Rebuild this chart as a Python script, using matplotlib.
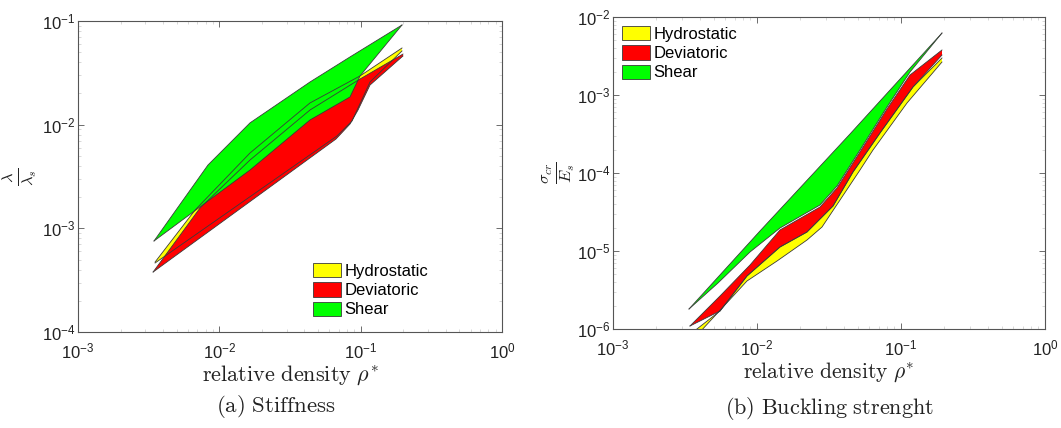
import numpy as np
import matplotlib
matplotlib.use('Agg')
import matplotlib.pyplot as plt
from matplotlib.patches import Patch
from matplotlib.ticker import LogLocator, NullFormatter

plt.rcParams['font.family'] = ['Liberation Sans', 'DejaVu Sans']
plt.rcParams['mathtext.fontset'] = 'custom'
plt.rcParams['mathtext.rm'] = 'Liberation Sans'
plt.rcParams['mathtext.it'] = 'Liberation Sans:italic'

# ---- (a) stiffness bands: upper / lower envelopes vs relative density
stf_shear_up_x = [0.00345, 0.00831, 0.01648, 0.04381, 0.08408, 0.1961]
stf_shear_up_y = [7.55e-4, 4.08e-3, 1.04e-2, 2.58e-2, 4.50e-2, 9.15e-2]
stf_shear_lo_x = [0.00345, 0.00730, 0.01648, 0.04381, 0.08408, 0.09893, 0.1961]
stf_shear_lo_y = [7.55e-4, 1.61e-3, 3.65e-3, 1.11e-2, 1.85e-2, 2.95e-2, 9.15e-2]

stf_dev_up_x = [0.00340, 0.00730, 0.01648, 0.04381, 0.09893, 0.1993]
stf_dev_up_y = [3.79e-4, 1.57e-3, 4.56e-3, 1.385e-2, 2.757e-2, 4.80e-2]
stf_dev_lo_x = [0.00340, 0.0669, 0.08408, 0.09577, 0.1164, 0.1993]
stf_dev_lo_y = [3.79e-4, 7.27e-3, 1.015e-2, 1.385e-2, 2.41e-2, 4.60e-2]

stf_hyd_up_x = [0.00351, 0.00673, 0.01648, 0.04381, 0.09893, 0.1961]
stf_hyd_up_y = [4.73e-4, 1.50e-3, 5.33e-3, 1.62e-2, 2.95e-2, 5.49e-2]
stf_hyd_lo_x = [0.00351, 0.0680, 0.08685, 0.1164, 0.1961]
stf_hyd_lo_y = [4.63e-4, 7.78e-3, 1.085e-2, 2.58e-2, 5.14e-2]

# ---- (b) buckling strength bands
bck_shear_up_x = [0.003372, 0.01049, 0.04424, 0.1926]
bck_shear_up_y = [1.805e-6, 1.805e-5, 3.16e-4, 6.23e-3]
bck_shear_lo_x = [0.003372, 0.00536, 0.008942, 0.01444, 0.02738, 0.03594, 0.05192, 0.07993, 0.1155, 0.1926]
bck_shear_lo_y = [1.805e-6, 3.89e-6, 9.71e-6, 1.972e-5, 3.89e-5, 6.81e-5, 1.972e-4, 7.02e-4, 1.972e-3, 6.23e-3]

bck_dev_up_x = [0.003425, 0.005536, 0.008942, 0.01444, 0.02738, 0.03594, 0.05192, 0.07993, 0.1155, 0.1926]
bck_dev_up_y = [1.093e-6, 2.649e-6, 6.61e-6, 1.859e-5, 3.66e-5, 6.42e-5, 1.859e-4, 6.61e-4, 1.805e-3, 3.775e-3]
bck_dev_lo_x = [0.003425, 0.005536, 0.008522, 0.01444, 0.02224, 0.03372, 0.04642, 0.07146, 0.1212, 0.1926]
bck_dev_lo_y = [1.093e-6, 1.701e-6, 4.78e-6, 1.125e-5, 1.752e-5, 3.775e-5, 1.030e-4, 3.256e-4, 1.267e-3, 3.256e-3]

bck_hyd_up_x = [0.003594, 0.005536, 0.008522, 0.01444, 0.02224, 0.03372, 0.04642, 0.07146, 0.1212, 0.1926]
bck_hyd_up_y = [9.15e-7, 1.701e-6, 4.78e-6, 1.125e-5, 1.752e-5, 3.775e-5, 1.030e-4, 3.256e-4, 1.267e-3, 2.981e-3]
bck_hyd_lo_x = [0.004019, 0.008522, 0.01377, 0.02224, 0.02828, 0.03771, 0.05192, 0.06391, 0.1101, 0.1926]
bck_hyd_lo_y = [9.15e-7, 4.125e-6, 7.44e-6, 1.383e-5, 2.03e-5, 4.50e-5, 1.093e-4, 1.972e-4, 7.90e-4, 2.649e-3]

names = ['Hydrostatic', 'Deviatoric', 'Shear']
colors = ['#ffff00', '#ff0000', '#00ff00']
edge = '#3a3a3a'


def draw_band(ax, ux, uy, lx, ly, col):
    px = list(ux) + list(lx)[::-1]
    py = list(uy) + list(ly)[::-1]
    ax.fill(px, py, facecolor=col, edgecolor='none', zorder=2)


def draw_edges(ax, ux, uy, lx, ly):
    ax.plot(ux, uy, color=edge, lw=0.6, zorder=3)
    ax.plot(lx, ly, color=edge, lw=0.6, zorder=3)


def style_axes(ax, ylim, yticks, xlab_size):
    ax.set_xscale('log')
    ax.set_yscale('log')
    ax.set_xlim(1e-3, 1)
    ax.set_ylim(*ylim)
    ax.set_xticks([1e-3, 1e-2, 1e-1, 1])
    ax.set_xticklabels([r'$10^{-3}$', r'$10^{-2}$', r'$10^{-1}$', r'$10^{0}$'])
    ax.set_yticks([10.0 ** k for k in yticks])
    ax.set_yticklabels([r'$10^{%d}$' % k for k in yticks])
    ax.xaxis.set_minor_locator(LogLocator(base=10, subs=np.arange(2, 10)))
    ax.yaxis.set_minor_locator(LogLocator(base=10, subs=np.arange(2, 10)))
    ax.xaxis.set_minor_formatter(NullFormatter())
    ax.yaxis.set_minor_formatter(NullFormatter())
    ax.tick_params(which='both', direction='in', top=True, right=True,
                   colors='#555555', labelcolor='#222222', labelsize=12)
    ax.tick_params(which='major', length=4, width=0.6)
    ax.tick_params(which='minor', length=2, width=0.4, colors='#bbbbbb')
    ax.tick_params(axis='x', which='major', pad=7)
    ax.tick_params(axis='y', which='major', pad=2)
    for s in ax.spines.values():
        s.set_color('#555555')
        s.set_linewidth(0.8)
    ax.set_xlabel(r'$\mathrm{relative\ density}\ \rho^{*}$', fontsize=xlab_size,
                  math_fontfamily='cm', color='#222222', labelpad=1)


fig = plt.figure(figsize=(10.61, 4.28), dpi=100)
ax1 = fig.add_axes([78 / 1061, 1 - 332 / 428, 424 / 1061, 311 / 428])
ax2 = fig.add_axes([613 / 1061, 1 - 329 / 428, 432 / 1061, 312 / 428])

stf = [(stf_hyd_up_x, stf_hyd_up_y, stf_hyd_lo_x, stf_hyd_lo_y),
       (stf_dev_up_x, stf_dev_up_y, stf_dev_lo_x, stf_dev_lo_y),
       (stf_shear_up_x, stf_shear_up_y, stf_shear_lo_x, stf_shear_lo_y)]
bck = [(bck_hyd_up_x, bck_hyd_up_y, bck_hyd_lo_x, bck_hyd_lo_y),
       (bck_dev_up_x, bck_dev_up_y, bck_dev_lo_x, bck_dev_lo_y),
       (bck_shear_up_x, bck_shear_up_y, bck_shear_lo_x, bck_shear_lo_y)]

for ax, bands in ((ax1, stf), (ax2, bck)):
    for b, c in zip(bands, colors):
        draw_band(ax, *b, c)
    for b in bands:
        draw_edges(ax, *b)

style_axes(ax1, (1e-4, 1e-1), [-4, -3, -2, -1], 16)
style_axes(ax2, (1e-6, 1e-2), [-6, -5, -4, -3, -2], 15.5)

ax1.set_ylabel(r'$\frac{\lambda}{\lambda_s}$', fontsize=17, math_fontfamily='cm',
               color='#222222', labelpad=2)
ax2.set_ylabel(r'$\frac{\sigma_{cr}}{E_s}$', fontsize=17, math_fontfamily='cm',
               color='#222222', labelpad=0)

handles = [Patch(facecolor=c, edgecolor=edge, linewidth=0.6) for c in colors]
leg_kw = dict(frameon=False, fontsize=12, handlelength=1.7, handleheight=0.95,
              handletextpad=0.2, labelspacing=0.2, borderpad=0, borderaxespad=0,
              loc='upper left', bbox_transform=fig.transFigure)
ax1.legend(handles, names, bbox_to_anchor=(313 / 1061, 1 - 263 / 428), **leg_kw)
ax2.legend(handles, names, bbox_to_anchor=(622 / 1061, 1 - 26 / 428), **leg_kw)

fig.text(276 / 1061, 1 - 406 / 428, r'$\mathrm{(a)\ Stiffness}$', fontsize=16.5,
         math_fontfamily='cm', ha='center', va='center', color='#222222')
fig.text(830 / 1061, 1 - 408 / 428, r'$\mathrm{(b)\ Buckling\ strenght}$', fontsize=16,
         math_fontfamily='cm', ha='center', va='center', color='#222222')

fig.savefig('out.png', dpi=100)
